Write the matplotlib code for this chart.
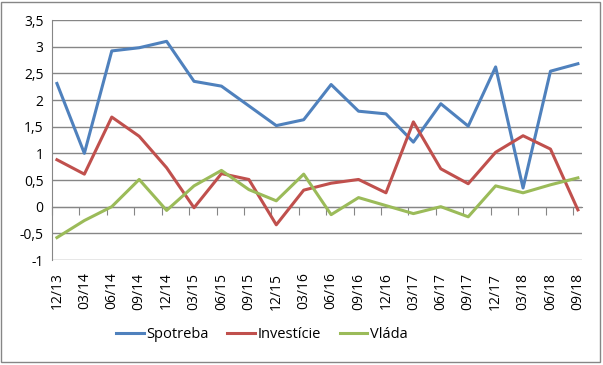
import numpy as np
import matplotlib.pyplot as plt
from matplotlib.patches import Rectangle

# data
kvartaly = ['12/13', '03/14', '06/14', '09/14', '12/14', '03/15', '06/15', '09/15',
            '12/15', '03/16', '06/16', '09/16', '12/16', '03/17', '06/17', '09/17',
            '12/17', '03/18', '06/18', '09/18']
spotreba = [2.31, 1.00, 2.92, 2.98, 3.10, 2.35, 2.26, 1.89, 1.52, 1.63,
            2.29, 1.79, 1.74, 1.21, 1.93, 1.51, 2.62, 0.35, 2.54, 2.68]
investicie = [0.88, 0.61, 1.68, 1.32, 0.73, -0.02, 0.62, 0.51, -0.34, 0.31,
              0.44, 0.51, 0.26, 1.59, 0.71, 0.43, 1.02, 1.33, 1.08, -0.06]
vlada = [-0.58, -0.26, 0.00, 0.51, -0.07, 0.39, 0.68, 0.32, 0.11, 0.61,
         -0.15, 0.17, 0.02, -0.13, 0.00, -0.19, 0.39, 0.26, 0.41, 0.54]
y_ticky = [-1, -0.5, 0, 0.5, 1, 1.5, 2, 2.5, 3, 3.5]

plt.rcParams['font.family'] = ['Open Sans', 'DejaVu Sans']
siva = '#868686'

fig = plt.figure(figsize=(6.03, 3.65), dpi=100)
ax = fig.add_axes([52/603, 1 - 260/365, 530/603, 240/365])

x = np.arange(len(kvartaly))
ax.plot(x, spotreba, color='#4F81BD', lw=2.2, label='Spotreba', zorder=3)
ax.plot(x, investicie, color='#C0504D', lw=2.2, label='Investície', zorder=3)
ax.plot(x, vlada, color='#9BBB59', lw=2.2, label='Vláda', zorder=3)

ymin, ymax = -1, 3.5
ax.set_ylim(ymin, ymax)
ax.set_xlim(-0.18, len(kvartaly) - 0.85)
ax.set_yticks(y_ticky)
ax.set_yticklabels([('%g' % v).replace('.', ',') for v in y_ticky])
ax.yaxis.grid(True, color=siva, lw=1)
ax.set_axisbelow(True)
ax.tick_params(axis='y', length=0, pad=6, labelsize=10)

ax.set_xticks(x)
ax.set_xticklabels(kvartaly, rotation=90, fontsize=10)
ax.tick_params(axis='x', length=0, pad=9)

for s in ['top', 'right', 'bottom']:
    ax.spines[s].set_visible(False)
ax.spines['left'].set_color(siva)

# os x prechadza nulou, znacky smeruju dole
sec = ax.secondary_xaxis((0 - ymin) / (ymax - ymin))
sec.set_xticks(x - 0.18)
sec.tick_params(length=6, color=siva, labelbottom=False)
sec.spines['bottom'].set_color(siva)

fig.legend(loc='center', bbox_to_anchor=(262/603, 1 - 335/365), ncol=3,
           frameon=False, fontsize=10.5, handlelength=1.9, columnspacing=1.25,
           handletextpad=0.2)

fig.add_artist(Rectangle((1/603, 3/365), 599/603, 360/365, transform=fig.transFigure,
                         fill=False, edgecolor=siva, lw=1))

fig.savefig('out.png', dpi=100)
